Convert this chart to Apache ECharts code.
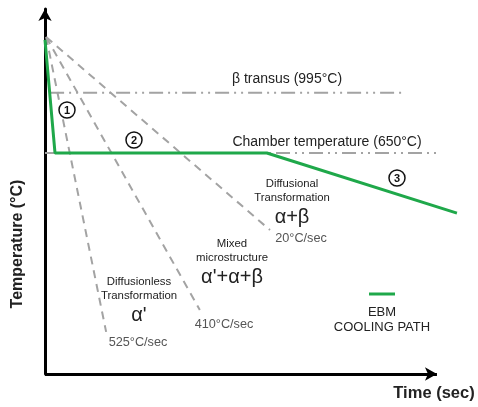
<!DOCTYPE html>
<html><head><meta charset="utf-8">
<script src="https://cdn.jsdelivr.net/npm/echarts@6/dist/echarts.min.js"></script>
<style>html,body{margin:0;padding:0;background:#fff}#c{width:478px;height:407px}</style>
</head><body><div id="c"></div>
<script>
// Schematic coordinates (time units, temperature units)
const ebmPath = [[0, 92.8], [2.55, 61.4], [56.6, 61.4], [105.1, 44.7]];
const chamberLine = [[0, 61.4], [100, 61.4]];
const betaTransus = [[1.3, 78.1], [91.1, 78.1]];
const coolStart = [0.3, 93.6];
const rate525 = [coolStart, [15.6, 11.7]];
const rate410 = [coolStart, [39.5, 17.8]];
const rate20 = [coolStart, [57.4, 40.0]];
const timeAxisEnd = 100;

const FONT = "'Liberation Sans', Arial, sans-serif";
const dashStyle = {color: '#a3a3a3', width: 2, type: [8, 6]};
const dashDot = {color: '#a3a3a3', width: 2, type: [14, 5, 2, 5, 2, 5]};

function lineSeries(data, style, z) {
  return {type: 'line', data: data, symbol: 'none', clip: false, silent: true,
          lineStyle: style, z: z || 2, animation: false};
}
function txt(x, y, s, size, opts) {
  opts = opts || {};
  return {type: 'text', x: x, y: y, rotation: opts.rot || 0,
    style: {text: s, fill: opts.color || '#222', font: (opts.bold ? 'bold ' : '') + size + 'px ' + FONT,
            textAlign: 'center', textVerticalAlign: 'middle'}};
}
function circ(x, y, n) {
  return [{type: 'circle', shape: {cx: x, cy: y, r: 8}, style: {fill: '#fff', stroke: '#111', lineWidth: 1.5}, z: 10},
          {type: 'text', x: x, y: y + 0.5, z: 11, style: {text: n, fill: '#111', font: 'bold 11px ' + FONT, textAlign: 'center', textVerticalAlign: 'middle'}}];
}

const axisSeries = {
  type: 'line', data: [], symbol: 'none', silent: true, z: 8,
  markLine: {silent: true, symbol: ['none', 'arrow'], symbolSize: [10, 12], label: {show: false},
    lineStyle: {color: '#000', width: 3, type: 'solid'}, animation: false,
    data: [[{coord: [0, 0]}, {coord: [timeAxisEnd, 0]}]]}
};

const chart = echarts.init(document.getElementById('c'), null, {renderer: 'canvas'});
chart.setOption({
  animation: false,
  grid: {left: 45, right: 14, top: 9, bottom: 33},
  xAxis: {type: 'value', min: 0, max: 106.9, axisLine: {show: false},
          axisTick: {show: false}, axisLabel: {show: false}, splitLine: {show: false}},
  yAxis: {type: 'value', min: 0, max: 101.4, axisLine: {show: true, symbol: ['none', 'arrow'], symbolSize: [10, 12], lineStyle: {color: '#000', width: 3}},
          axisTick: {show: false}, axisLabel: {show: false}, splitLine: {show: false}},
  series: [
    lineSeries(betaTransus, dashDot, 1),
    lineSeries(chamberLine, dashDot, 1),
    lineSeries(rate525, dashStyle, 2),
    lineSeries(rate410, dashStyle, 2),
    lineSeries(rate20, dashStyle, 2),
    lineSeries(ebmPath, {color: '#1fa84a', width: 3}, 5),
    axisSeries
  ],
  graphic: [
    txt(287, 79, 'β transus (995°C)', 14),
    txt(327, 142, 'Chamber temperature (650°C)', 14),
    txt(292, 184, 'Diffusional', 11.3),
    txt(292, 198, 'Transformation', 11.3),
    txt(292, 217, 'α+β', 20),
    txt(301, 238, '20°C/sec', 12.7, {color: '#555'}),
    txt(232, 244, 'Mixed', 11.4),
    txt(232, 258, 'microstructure', 11.4),
    txt(232, 277, "α'+α+β", 20),
    txt(139, 282, 'Diffusionless', 11.4),
    txt(139, 296, 'Transformation', 11.4),
    txt(139, 315, "α'", 20),
    txt(224, 324, '410°C/sec', 12.7, {color: '#555'}),
    txt(138, 342, '525°C/sec', 12.7, {color: '#555'}),
    {type: 'line', shape: {x1: 369, y1: 294, x2: 395, y2: 294}, style: {stroke: '#1fa84a', lineWidth: 3}},
    txt(382, 312, 'EBM', 13),
    txt(382, 327, 'COOLING PATH', 13),
    txt(434, 393, 'Time (sec)', 16.5, {bold: true}),
    txt(18, 244, 'Temperature (°C)', 16, {bold: true, rot: Math.PI / 2})
  ].concat(circ(67, 110, '1'), circ(134, 140, '2'), circ(397, 178, '3'))
});
</script></body></html>
